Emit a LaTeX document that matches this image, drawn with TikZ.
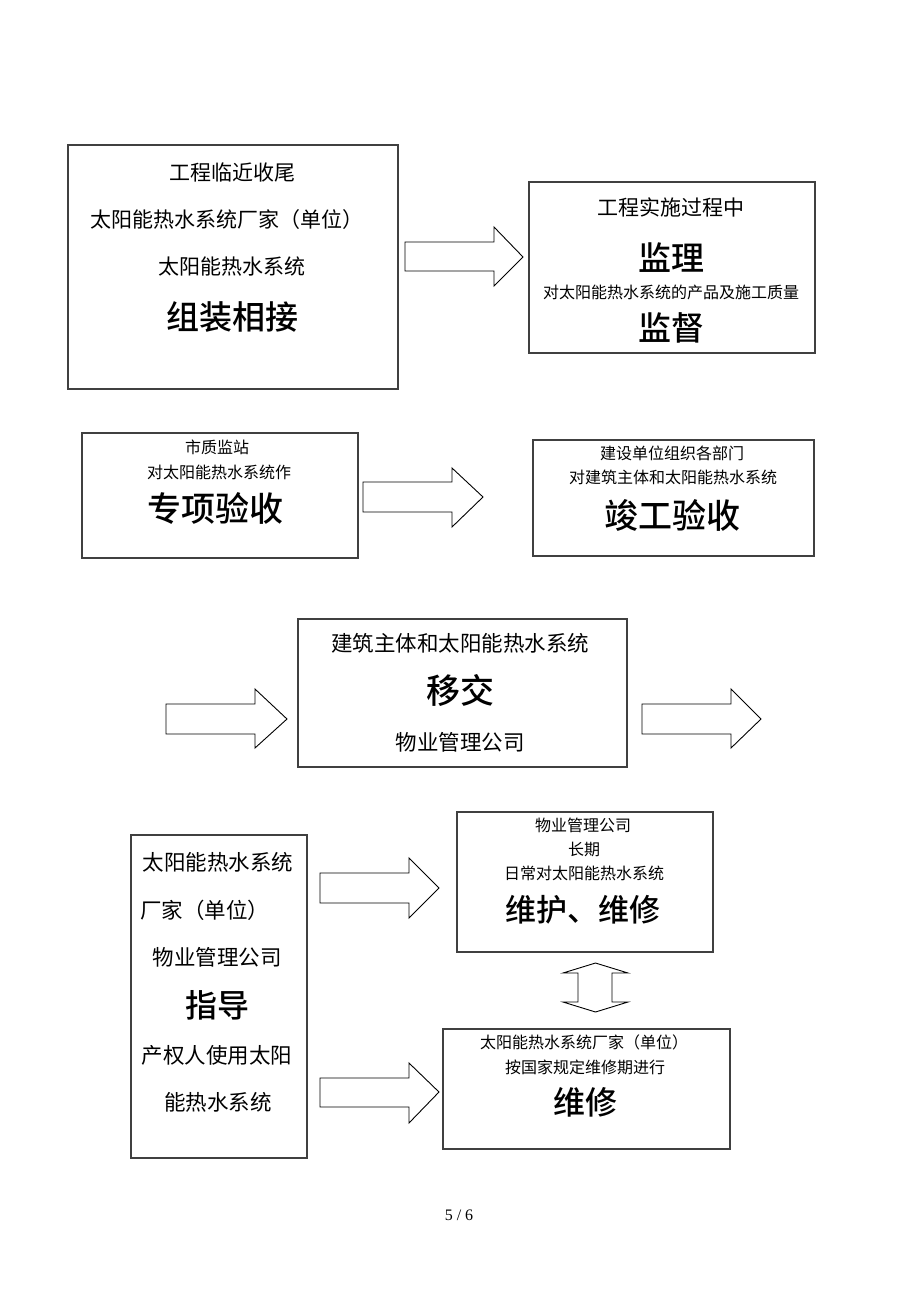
\documentclass[tikz,border=0pt]{standalone}
\usepackage{fontspec}
\setmainfont{Liberation Serif}
\newfontfamily\cjk{Noto Sans CJK SC}
\newfontfamily\cjkm{Noto Sans CJK SC Medium}
\begin{document}
\begin{tikzpicture}[x=1pt,y=-1pt,
  box/.style={draw=black!75, line width=2pt, inner sep=0pt, anchor=north west},
  blk/.style={draw=black, line width=0.9pt, line join=miter},
  sm/.style={font=\cjk\fontsize{#1}{#1}\selectfont, inner sep=0pt},
  bg/.style={font=\cjkm\fontsize{#1}{#1}\selectfont, inner sep=0pt}]
\useasboundingbox[fill=white] (0,0) rectangle (920,1302);

% boxes
\node[box, minimum width=330pt, minimum height=244pt] (b1) at (67,144) {};
\node[box, minimum width=286pt, minimum height=171pt] (b2) at (528,181) {};
\node[box, minimum width=276pt, minimum height=125pt] (b3) at (81,432) {};
\node[box, minimum width=281pt, minimum height=116pt] (b4) at (532,439) {};
\node[box, minimum width=329pt, minimum height=148pt] (b5) at (297,618) {};
\node[box, minimum width=176pt, minimum height=323pt] (b6) at (130,834) {};
\node[box, minimum width=256pt, minimum height=140pt] (b7) at (456,811) {};
\node[box, minimum width=287pt, minimum height=120pt] (b8) at (442,1028) {};

% box 1
\node[sm=21] (t1a) at (232,172) {工程临近收尾};
\node[sm=21] (t1b) at (227,220) {太阳能热水系统厂家（单位）};
\node[sm=21] (t1c) at (232,267) {太阳能热水系统};
\node[bg=33] (t1d) at (232,317) {组装相接};
% box 2
\node[sm=21] (t2a) at (671,207) {工程实施过程中};
\node[bg=33] (t2b) at (671,258) {监理};
\node[sm=16] (t2c) at (671,292) {对太阳能热水系统的产品及施工质量};
\node[bg=33] (t2d) at (671,328) {监督};
% box 3
\node[sm=16] (t3a) at (217,447) {市质监站};
\node[sm=16] (t3b) at (219,472) {对太阳能热水系统作};
\node[bg=34] (t3c) at (215,508) {专项验收};
% box 4
\node[sm=16] (t4a) at (672,453) {建设单位组织各部门};
\node[sm=16] (t4b) at (673,477) {对建筑主体和太阳能热水系统};
\node[bg=34] (t4c) at (672,515) {竣工验收};
% box 5
\node[sm=21.5] (t5a) at (460,643) {建筑主体和太阳能热水系统};
\node[bg=34] (t5b) at (460,690) {移交};
\node[sm=21.5] (t5c) at (460,742) {物业管理公司};
% box 6
\node[sm=21.5] (t6a) at (218,862) {太阳能热水系统};
\node[sm=21.5, anchor=west] (t6b) at (140,910) {厂家（单位）};
\node[sm=21.5] (t6c) at (217,957) {物业管理公司};
\node[bg=32] (t6d) at (217,1005) {指导};
\node[sm=21.5] (t6e) at (217,1055) {产权人使用太阳};
\node[sm=21.5] (t6f) at (218,1102) {能热水系统};
% box 7
\node[sm=16] (t7a) at (583,825) {物业管理公司};
\node[sm=16] (t7b) at (584,849) {长期};
\node[sm=16] (t7c) at (584,873) {日常对太阳能热水系统};
\node[bg=31] (t7d) at (583,910) {维护、维修};
% box 8
\node[sm=16] (t8a) at (584,1042) {太阳能热水系统厂家（单位）};
\node[sm=16] (t8b) at (585,1067) {按国家规定维修期进行};
\node[bg=32] (t8c) at (585,1102) {维修};

% block arrows
\draw[blk] (405,242) -- (494,242) -- (494,227) -- (523,257) -- (494,286) -- (494,271) -- (405,271) -- cycle;
\draw[blk] (363,482) -- (452,482) -- (452,468) -- (483,497) -- (452,527) -- (452,512) -- (363,512) -- cycle;
\draw[blk] (166,704) -- (255,704) -- (255,689) -- (287,719) -- (255,748) -- (255,734) -- (166,734) -- cycle;
\draw[blk] (642,704) -- (731,704) -- (731,689) -- (761,719) -- (731,748) -- (731,734) -- (642,734) -- cycle;
\draw[blk] (320,873) -- (409,873) -- (409,858) -- (439,888) -- (409,918) -- (409,903) -- (320,903) -- cycle;
\draw[blk] (320,1078) -- (409,1078) -- (409,1063) -- (439,1092) -- (409,1123) -- (409,1107) -- (320,1107) -- cycle;
% double arrow
\draw[blk] (595.5,963) -- (628,973) -- (612,973) -- (612,1002) -- (628,1002) -- (595.5,1012) -- (563,1002) -- (578,1002) -- (578,973) -- (563,973) -- cycle;

% footer
\node[font=\fontsize{16}{16}\selectfont, inner sep=0pt] (pg) at (459,1215) {5 / 6};
\end{tikzpicture}
\end{document}
